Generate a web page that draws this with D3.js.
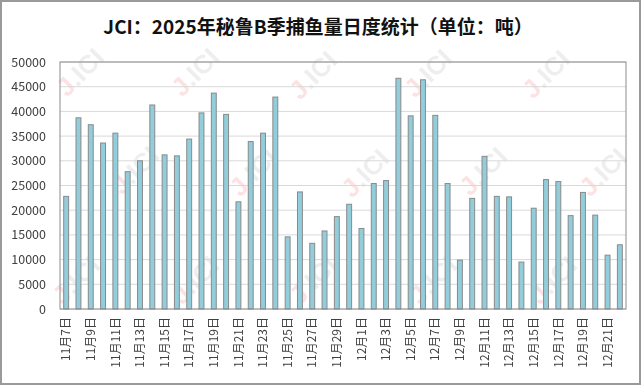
<!DOCTYPE html>
<html>
<head>
<meta charset="utf-8">
<script src="https://cdn.jsdelivr.net/npm/d3@7"></script>
<style>
  body { margin: 0; background: #fff; }
  svg { display: block; }
</style>
</head>
<body>
<div id="chart"></div>
<script>
// 日期（11月7日 - 12月22日）
const dates = [
  "11月7日", "11月8日", "11月9日", "11月10日", "11月11日", "11月12日", "11月13日", "11月14日",
  "11月15日", "11月16日", "11月17日", "11月18日", "11月19日", "11月20日", "11月21日", "11月22日",
  "11月23日", "11月24日", "11月25日", "11月26日", "11月27日", "11月28日", "11月29日", "11月30日",
  "12月1日", "12月2日", "12月3日", "12月4日", "12月5日", "12月6日", "12月7日", "12月8日",
  "12月9日", "12月10日", "12月11日", "12月12日", "12月13日", "12月14日", "12月15日", "12月16日",
  "12月17日", "12月18日", "12月19日", "12月20日", "12月21日", "12月22日"
];
// 捕鱼量（吨）
const catchTons = [
  22800, 38700, 37300, 33600, 35600, 27800, 30000, 41300,
  31200, 31000, 34400, 39700, 43700, 39400, 21700, 33900,
  35600, 42900, 14600, 23700, 13300, 15800, 18700, 21200,
  16300, 25400, 26000, 46700, 39100, 46400, 39200, 25400,
  9900, 22400, 30900, 22800, 22700, 9500, 20400, 26200,
  25800, 18900, 23600, 19000, 10900, 13000
];
const yTicks = [0, 5000, 10000, 15000, 20000, 25000, 30000, 35000, 40000, 45000, 50000];

const W = 641, H = 385;
const plotL = 60, plotR = 626, plotT = 62, plotB = 309;

const svg = d3.select("#chart").append("svg")
  .attr("width", W)
  .attr("height", H);

svg.append("rect")
  .attr("x", 1).attr("y", 1)
  .attr("width", W - 2).attr("height", H - 2)
  .attr("fill", "#fff")
  .attr("stroke", "#9a9a9a")
  .attr("stroke-width", 2);

const x = d3.scaleBand()
  .domain(dates)
  .range([plotL, plotR])
  .paddingInner(0.6)
  .paddingOuter(0.3);

const y = d3.scaleLinear()
  .domain([0, 50000])
  .range([plotB, plotT]);

// 水印
const marks = [
  [67, 98], [182, 98], [300, 101], [415, 99], [533, 100],
  [122, 196], [240, 198], [352, 199], [470, 197], [590, 198],
  [63, 306], [182, 306], [300, 306], [420, 306], [540, 306]
];
const wm = svg.append("g").attr("opacity", 0.13);
marks.forEach(function (m) {
  const t = wm.append("text")
    .attr("transform", `translate(${m[0]},${m[1]}) rotate(-45)`)
    .attr("font-family", "Liberation Sans, sans-serif")
    .attr("font-weight", "bold")
    .attr("font-size", 26);
  t.append("tspan").attr("fill", "#e8202a").text("J");
  t.append("tspan").attr("fill", "#7a7a7a").text(".ICI");
});

// 网格线
svg.append("g")
  .selectAll("line")
  .data(yTicks)
  .join("line")
  .attr("x1", plotL).attr("x2", plotR)
  .attr("y1", d => y(d)).attr("y2", d => y(d))
  .attr("stroke", "#d9d9d9")
  .attr("stroke-width", 1);

// 柱子
svg.append("g")
  .selectAll("rect")
  .data(catchTons)
  .join("rect")
  .attr("x", (d, i) => x(dates[i]))
  .attr("y", d => y(d))
  .attr("width", x.bandwidth())
  .attr("height", d => plotB - y(d))
  .attr("fill", "#92cddc")
  .attr("stroke", "#8a8a8a")
  .attr("stroke-width", 1);

// 绘图区边框
svg.append("rect")
  .attr("x", plotL).attr("y", plotT)
  .attr("width", plotR - plotL).attr("height", plotB - plotT)
  .attr("fill", "none")
  .attr("stroke", "#8c8c8c")
  .attr("stroke-width", 1);

// Y轴
const yAxis = svg.append("g")
  .attr("transform", `translate(${plotL},0)`)
  .call(d3.axisLeft(y).tickValues(yTicks).tickSize(0).tickPadding(14).tickFormat(d3.format("d")));
yAxis.select(".domain").remove();
yAxis.selectAll("text")
  .attr("font-family", "Noto Sans CJK SC, sans-serif")
  .attr("font-size", 12.5)
  .attr("fill", "#404040");

// X轴
const xAxis = svg.append("g")
  .attr("transform", `translate(0,${plotB})`)
  .call(d3.axisBottom(x).tickValues(dates.filter((d, i) => i % 2 === 0)).tickSize(0));
xAxis.select(".domain").remove();
xAxis.selectAll("text")
  .attr("font-family", "Noto Sans CJK SC, sans-serif")
  .attr("font-size", 12)
  .attr("fill", "#404040")
  .attr("text-anchor", "end")
  .attr("transform", "rotate(-90)")
  .attr("x", -8)
  .attr("y", 0)
  .attr("dy", "0.35em");

// 标题
svg.append("text")
  .attr("x", 318)
  .attr("y", 34)
  .attr("text-anchor", "middle")
  .attr("font-family", "Noto Sans CJK SC, sans-serif")
  .attr("font-weight", "bold")
  .attr("font-size", 19)
  .attr("fill", "#111")
  .text("JCI：2025年秘鲁B季捕鱼量日度统计（单位：吨）");
</script>
</body>
</html>
